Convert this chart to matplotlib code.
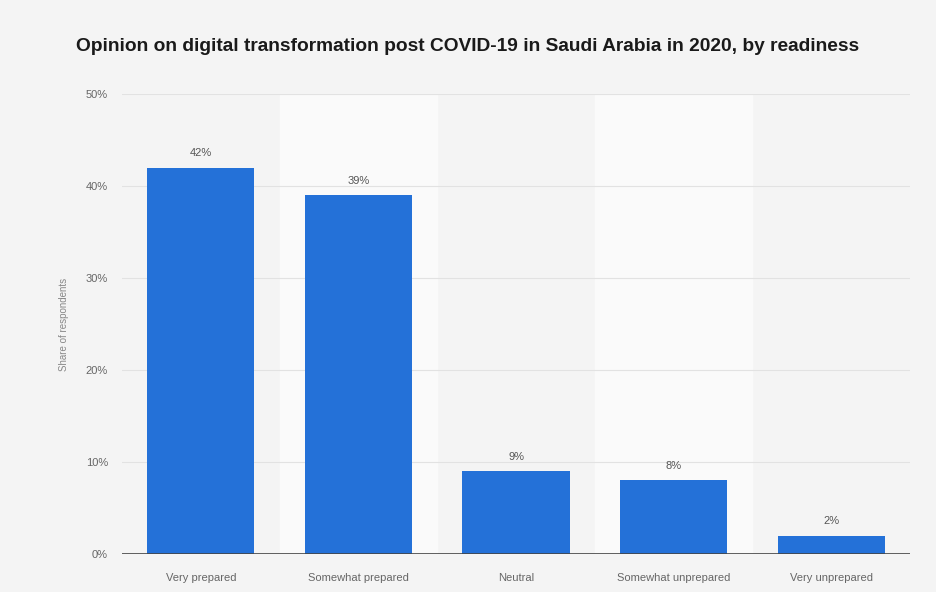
import matplotlib.pyplot as plt
import numpy as np

categories = ["Very prepared", "Somewhat prepared", "Neutral",
              "Somewhat unprepared", "Very unprepared"]
shares = [42, 39, 9, 8, 2]
y_ticks = [0, 10, 20, 30, 40, 50]

plt.rcParams['font.family'] = ['Liberation Sans', 'DejaVu Sans']

fig = plt.figure(figsize=(9.36, 5.92), dpi=100)
fig.patch.set_facecolor('#f4f4f4')
ax = fig.add_axes([0.1303, 0.0642, 0.842, 0.777])
ax.set_facecolor('#f4f4f4')

x = np.arange(len(categories))

# lighter bands behind every second category
for i in x[1::2]:
    ax.axvspan(i - 0.5, i + 0.5, color='#fafafa', zorder=0)

ax.set_ylim(0, 50)
ax.set_xlim(-0.5, len(categories) - 0.5)
for t in y_ticks[1:]:
    ax.axhline(t, color='#e2e2e2', lw=0.8, zorder=1)

bars = ax.bar(x, shares, width=0.68, color='#2471d8', zorder=2)
for b, v in zip(bars, shares):
    ax.text(b.get_x() + b.get_width() / 2, v + 1.0, f"{v}%",
            ha='center', va='bottom', fontsize=8, color='#555555')

ax.axhline(0, color='#444444', lw=1.2, zorder=3)

ax.set_yticks(y_ticks)
ax.set_yticklabels([f"{t}%" for t in y_ticks])
ax.set_xticks(x)
ax.set_xticklabels(categories)
ax.tick_params(axis='both', length=0, labelsize=8, labelcolor='#666666')
ax.tick_params(axis='y', pad=10)
ax.tick_params(axis='x', pad=14)
for s in ax.spines.values():
    s.set_visible(False)

ax.set_ylabel("Share of respondents", fontsize=7, color='#888888', labelpad=12)

fig.text(0.5, 0.922,
         "Opinion on digital transformation post COVID-19 in Saudi Arabia in 2020, by readiness",
         ha='center', va='center', fontsize=13.8, fontweight='bold', color='#1a1a1a')

fig.savefig('out.png', dpi=100, facecolor=fig.get_facecolor())
